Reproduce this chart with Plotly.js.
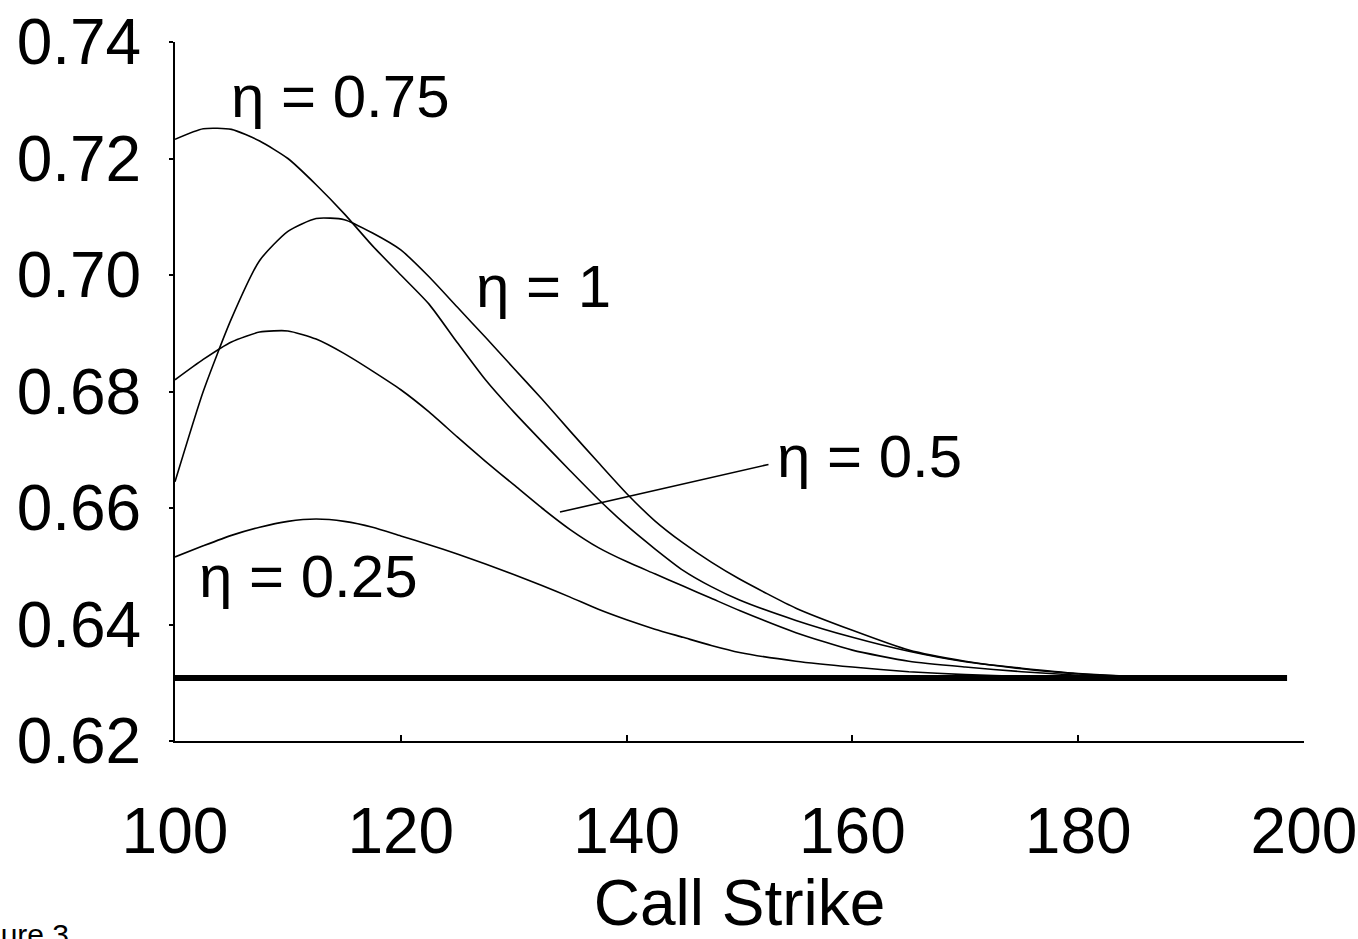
<!DOCTYPE html>
<html>
<head>
<meta charset="utf-8">
<script src="https://cdn.plot.ly/plotly-3.0.1.min.js"></script>
<style>html,body{margin:0;padding:0;background:#fff;}#chart{width:1358px;height:939px;}</style>
</head>
<body>
<div id="chart"></div>
<script>
// Call strike grid
var strikes = [100, 102.5, 105, 107.5, 110, 112.5, 115, 117.5, 120, 122.5, 125, 127.5, 130, 132.5, 135, 137.5, 140, 142.5, 145, 147.5, 150, 155, 160, 165, 170, 175, 180, 185, 190];

// Series values
var eta075 = [0.7233, 0.7251, 0.7250, 0.7230, 0.7200, 0.7155, 0.7105, 0.7050, 0.7000, 0.6950, 0.6884, 0.6820, 0.6765, 0.6714, 0.6664, 0.6615, 0.6570, 0.6530, 0.6493, 0.6465, 0.6442, 0.6407, 0.6378, 0.6354, 0.6336, 0.6325, 0.6316, 0.6311, 0.6309];
var eta1   = [0.6645, 0.6800, 0.6925, 0.7025, 0.7075, 0.7097, 0.7095, 0.7072, 0.7043, 0.6997, 0.6945, 0.6893, 0.6840, 0.6787, 0.6732, 0.6678, 0.6625, 0.6578, 0.6540, 0.6507, 0.6478, 0.6428, 0.6390, 0.6356, 0.6337, 0.6324, 0.6315, 0.6311, 0.6309];
var eta05  = [0.6820, 0.6855, 0.6885, 0.6902, 0.6904, 0.6890, 0.6865, 0.6835, 0.6803, 0.6765, 0.6722, 0.6680, 0.6640, 0.6600, 0.6563, 0.6532, 0.6508, 0.6487, 0.6466, 0.6445, 0.6424, 0.6386, 0.6356, 0.6337, 0.6327, 0.6319, 0.6313, 0.6310, 0.6309];
var eta025 = [0.6516, 0.6535, 0.6553, 0.6567, 0.6577, 0.6581, 0.6577, 0.6567, 0.6552, 0.6537, 0.6521, 0.6504, 0.6486, 0.6467, 0.6447, 0.6426, 0.6408, 0.6392, 0.6378, 0.6364, 0.6352, 0.6337, 0.6327, 0.6319, 0.6314, 0.6311, 0.6309, 0.6308, 0.6308];

// Limit (flat) line
var limitX = [100, 198.5];
var limitY = [0.6308, 0.6308];

// Tick labels
var xTicks = [100, 120, 140, 160, 180, 200];
var xTickText = ['100', '120', '140', '160', '180', '200'];
var yTicks = [0.62, 0.64, 0.66, 0.68, 0.70, 0.72, 0.74];
var yTickText = ['0.62', '0.64', '0.66', '0.68', '0.70', '0.72', '0.74'];

var seriesNames = ['η = 0.75', 'η = 1', 'η = 0.5', 'η = 0.25'];
var seriesVals = [eta075, eta1, eta05, eta025];

var traces = seriesVals.map(function(v, i){
  return {x: strikes, y: v, type: 'scatter', mode: 'lines', name: seriesNames[i],
          line: {color: '#000', width: 1.6, shape: 'spline', smoothing: 0.6}, hoverinfo: 'x+y'};
});
traces.push({x: limitX, y: limitY, type: 'scatter', mode: 'lines', name: 'limit',
             line: {color: '#000', width: 6}});

var F = 'Liberation Sans, Arial, sans-serif';
var layout = {
  width: 1358, height: 939,
  margin: {l: 175, r: 54, t: 42, b: 198, pad: 0},
  paper_bgcolor: '#fff', plot_bgcolor: '#fff',
  showlegend: false,
  font: {family: F, color: '#000'},
  xaxis: {
    range: [100, 200], tickvals: xTicks, ticktext: xTickText,
    showgrid: false, zeroline: false, showline: true, linecolor: '#000', linewidth: 2,
    ticks: 'inside', ticklen: 6, tickwidth: 2, tickcolor: '#000',
    tickfont: {family: F, size: 64, color: '#000'}, ticklabelstandoff: 33,
    title: {text: 'Call Strike', font: {family: F, size: 64, color: '#000'}, standoff: 8}
  },
  yaxis: {
    range: [0.62, 0.74], tickvals: yTicks, ticktext: yTickText,
    showgrid: false, zeroline: false, showline: true, linecolor: '#000', linewidth: 2,
    ticks: 'outside', ticklen: 4, tickwidth: 2, tickcolor: '#000',
    tickfont: {family: F, size: 64, color: '#000'}, ticklabelstandoff: 15
  },
  annotations: [
    {x: 114.70, y: 0.7306, text: 'η = 0.75', showarrow: false, font: {family: F, size: 60}, xanchor: 'center', yanchor: 'middle'},
    {x: 132.60, y: 0.6981, text: 'η = 1', showarrow: false, font: {family: F, size: 60}, xanchor: 'center', yanchor: 'middle'},
    {x: 161.47, y: 0.6688, text: 'η = 0.5', showarrow: false, font: {family: F, size: 60}, xanchor: 'center', yanchor: 'middle'},
    {x: 111.78, y: 0.6483, text: 'η = 0.25', showarrow: false, font: {family: F, size: 60}, xanchor: 'center', yanchor: 'middle'},
    {x: 134.10, y: 0.6593, text: '', showarrow: true, arrowhead: 0, arrowwidth: 1.6, arrowcolor: '#000', ax: 210, ay: -48, standoff: 0, startstandoff: 0},
    {xref: 'paper', yref: 'paper', x: -0.0921, y: -0.2775, text: 'Figure 3', showarrow: false, font: {family: F, size: 30}, xanchor: 'right', yanchor: 'middle'}
  ]
};

Plotly.newPlot('chart', traces, layout, {displayModeBar: false, staticPlot: true});
</script>
</body>
</html>
